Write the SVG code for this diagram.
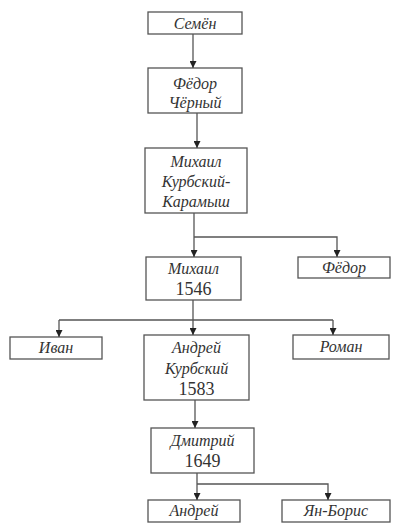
<svg xmlns="http://www.w3.org/2000/svg" width="394" height="524" viewBox="0 0 394 524">
<defs>
<marker id="ah" viewBox="0 0 8 8" refX="8" refY="4" markerWidth="7" markerHeight="7" markerUnits="userSpaceOnUse" orient="auto">
<path d="M0,0 L8,4 L0,8 Z" fill="#222"/>
</marker>
<style>
rect{fill:#fff;stroke:#555;stroke-width:1.3}
.n{font-family:"Liberation Serif","Times New Roman",serif;font-style:italic;font-size:16px;fill:#333;text-anchor:middle}
.d{font-family:"Liberation Serif","Times New Roman",serif;font-size:18px;fill:#333;text-anchor:middle}
.c path{fill:none;stroke:#555;stroke-width:1.3}
</style>
</defs>
<rect x="0" y="0" width="394" height="524" style="fill:#fff;stroke:none"/>
<g id="semen"><rect x="148" y="12" width="94" height="22"/><text class="n" x="195" y="29">Семён</text></g>
<g id="fedor-cherny"><rect x="148" y="68" width="94" height="45"/><text class="n" x="195" y="89">Фёдор</text><text class="n" x="195" y="108">Чёрный</text></g>
<g id="mikhail-kk"><rect x="145" y="148" width="102" height="65"/><text class="n" x="196" y="167">Михаил</text><text class="n" x="196" y="187">Курбский-</text><text class="n" x="196" y="207">Карамыш</text></g>
<g id="mikhail-1546"><rect x="146" y="257" width="95" height="43"/><text class="n" x="193.5" y="274">Михаил</text><text class="d" x="193.5" y="295">1546</text></g>
<g id="fedor"><rect x="298" y="257" width="92" height="21"/><text class="n" x="344" y="273">Фёдор</text></g>
<g id="ivan"><rect x="10" y="337" width="92" height="22"/><text class="n" x="56" y="353">Иван</text></g>
<g id="andrei-kurbsky"><rect x="144" y="335" width="105" height="65"/><text class="n" x="196.5" y="353">Андрей</text><text class="n" x="196.5" y="374">Курбский</text><text class="d" x="196.5" y="395">1583</text></g>
<g id="roman"><rect x="293" y="335" width="96" height="24"/><text class="n" x="341" y="352">Роман</text></g>
<g id="dmitry"><rect x="151" y="428" width="103" height="45"/><text class="n" x="202.5" y="446">Дмитрий</text><text class="d" x="202.5" y="467">1649</text></g>
<g id="andrei"><rect x="148" y="500" width="92" height="22"/><text class="n" x="194" y="516">Андрей</text></g>
<g id="yan-boris"><rect x="282" y="500" width="108" height="22"/><text class="n" x="336" y="516">Ян-Борис</text></g>
<g class="c" id="connectors">
<path d="M193,34 V68" marker-end="url(#ah)"/>
<path d="M197,113 V148" marker-end="url(#ah)"/>
<path d="M194,213 V257" marker-end="url(#ah)"/>
<path d="M194,237 H337 V257" marker-end="url(#ah)"/>
<path d="M193,300 V335" marker-end="url(#ah)"/>
<path d="M59,320 H333"/>
<path d="M59,320 V337" marker-end="url(#ah)"/>
<path d="M333,320 V335" marker-end="url(#ah)"/>
<path d="M195,400 V428" marker-end="url(#ah)"/>
<path d="M197,473 V500" marker-end="url(#ah)"/>
<path d="M197,484 H328 V500" marker-end="url(#ah)"/>
</g>
</svg>
